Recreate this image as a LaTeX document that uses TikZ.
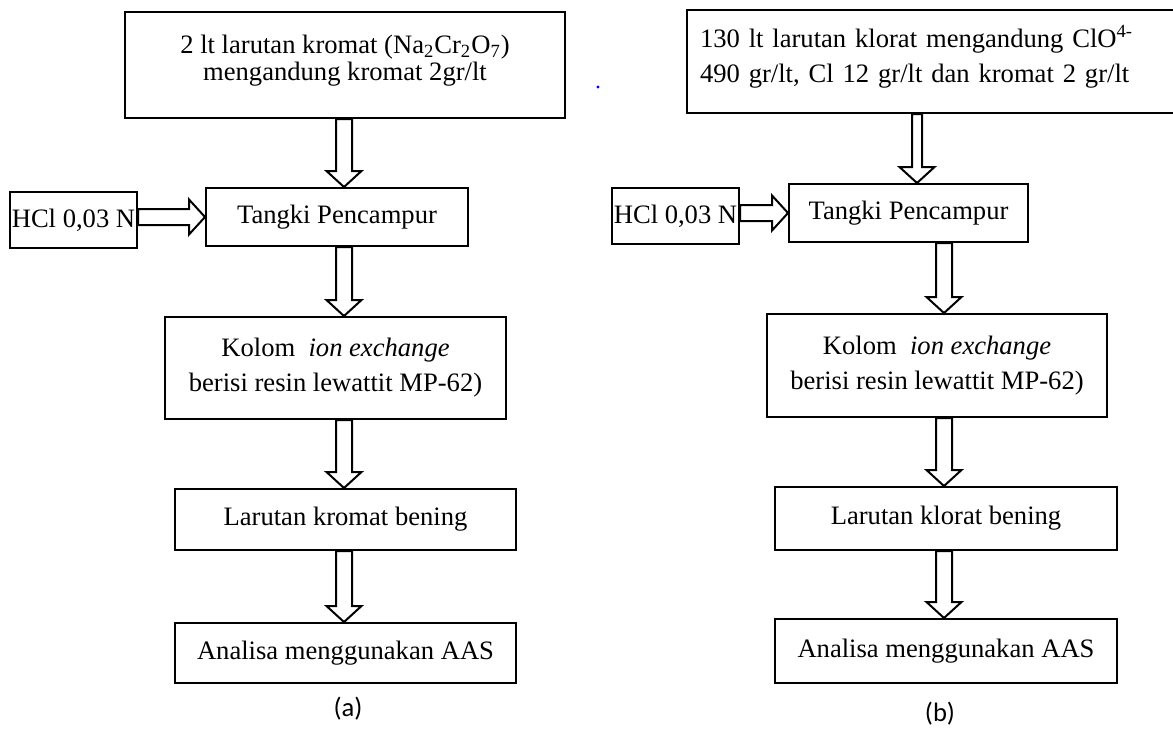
\documentclass[tikz,border=0pt]{standalone}
\usepackage{fontspec}
\setmainfont{Liberation Serif}
\newfontfamily\capfont{Carlito}
\usetikzlibrary{calc}

% block arrow from #2 to #3, #1 = half width of the shaft
\newcommand\fatflow[3][4pt]{%
  \draw[line width=1pt] ($(#2)!#1!90:(#3)$)
    -- ($(#3)!8pt!(#2)!#1!-90:(#2)$) -- ($(#3)!8pt!(#2)!8.75pt!-90:(#2)$)
    -- (#3)
    -- ($(#3)!8pt!(#2)!8.75pt!90:(#2)$) -- ($(#3)!8pt!(#2)!#1!90:(#2)$)
    -- ($(#2)!#1!-90:(#3)$) -- cycle;}

\begin{document}
\begin{tikzpicture}[x=0.5pt,y=-0.5pt,
  box/.style={draw,line width=1pt,align=center,font=\fontsize{13.3}{15}\selectfont},
  tall/.style={box,font=\fontsize{13.3}{17.5}\selectfont},
  sublabel/.style={font=\capfont\fontsize{13.3}{15}\selectfont}]
  \useasboundingbox (0,0) rectangle (1173,729);
  \coordinate (axA) at (344,0);
  \coordinate (axB1) at (917,0);
  \coordinate (axB) at (944,0);

  % (a)
  \node[box,minimum width=220pt,minimum height=53pt,text depth=7.5pt,font=\fontsize{13.3}{13.5}\selectfont] (srcA) at (345,65)
     {2 lt larutan kromat (Na\textsubscript{2}Cr\textsubscript{2}O\textsubscript{7})\\mengandung kromat 2gr/lt};
  \node[box,minimum width=63.5pt,minimum height=28pt,inner sep=0pt] (hclA) at (73.5,220) {HCl 0,03 N};
  \node[box,minimum width=131pt,minimum height=29pt] (tankA) at (337,217) {Tangki Pencampur};
  \node[tall,minimum width=170.5pt,minimum height=51pt] (colA) at (335.5,368)
     {Kolom\ \ \textit{ion exchange}\\berisi resin lewattit MP-62)};
  \node[box,minimum width=170.5pt,minimum height=30.5pt] (clearA) at (345.5,519.5) {Larutan kromat bening};
  \node[box,minimum width=170.5pt,minimum height=30pt] (aasA) at (345.5,653) {Analisa menggunakan AAS};
  \node[sublabel] (capA) at (348,709) {(a)};

  \fatflow{srcA.south -| axA}{tankA.north -| axA}
  \fatflow{hclA.east |- tankA.west}{tankA.west}
  \fatflow{tankA.south -| axA}{colA.north -| axA}
  \fatflow{colA.south -| axA}{clearA.north -| axA}
  \fatflow{clearA.south -| axA}{aasA.north -| axA}

  \fill[blue] (598,87) circle (0.8pt);

  % (b)
  \node[tall,minimum width=251.5pt,minimum height=51.5pt,text width=238.5pt,inner xsep=6.5pt,text depth=25pt,align=left] (srcB) at (938.5,61.5)
     {130 lt larutan klorat mengandung ClO\textsuperscript{4-}\\490 gr/lt, Cl 12 gr/lt dan kromat 2 gr/lt};
  \node[box,minimum width=63.5pt,minimum height=28pt,inner sep=0pt] (hclB) at (675.5,216) {HCl 0,03 N};
  \node[box,minimum width=119.5pt,minimum height=29pt] (tankB) at (908.5,213) {Tangki Pencampur};
  \node[tall,minimum width=170pt,minimum height=51.5pt] (colB) at (937,365.5)
     {Kolom\ \ \textit{ion exchange}\\berisi resin lewattit MP-62)};
  \node[box,minimum width=171pt,minimum height=31.5pt] (clearB) at (946,518.5) {Larutan klorat bening};
  \node[box,minimum width=171pt,minimum height=32pt] (aasB) at (946,651) {Analisa menggunakan AAS};
  \node[sublabel] (capB) at (940,714) {(b)};

  \fatflow[2.5pt]{srcB.south -| axB1}{tankB.north -| axB1}
  \fatflow{hclB.east |- tankB.west}{tankB.west}
  \fatflow{tankB.south -| axB}{colB.north -| axB}
  \fatflow{colB.south -| axB}{clearB.north -| axB}
  \fatflow{clearB.south -| axB}{aasB.north -| axB}
\end{tikzpicture}
\end{document}
